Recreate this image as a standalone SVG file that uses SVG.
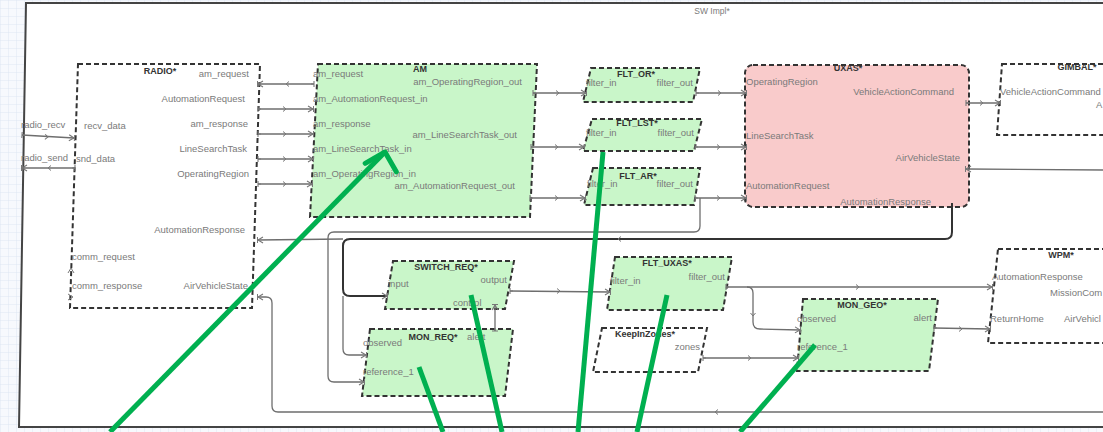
<svg xmlns="http://www.w3.org/2000/svg" width="1103" height="432" viewBox="0 0 1103 432">
<defs>
<pattern id="grid" width="8" height="8" patternUnits="userSpaceOnUse">
<rect width="8" height="8" fill="#f7f9fd"/>
<path d="M8 0 L0 0 L0 8" fill="none" stroke="#dbe4f1" stroke-width="0.8"/>
</pattern>
<marker id="arr" markerWidth="8" markerHeight="8" refX="6" refY="4" orient="auto" markerUnits="userSpaceOnUse">
<path d="M1 1 L6 4 L1 7" fill="none" stroke="#777" stroke-width="1.1"/>
<path d="M6.5 1 L6.5 7" stroke="#777" stroke-width="1"/>
</marker>
<marker id="src" markerWidth="6" markerHeight="8" refX="1" refY="4" orient="auto" markerUnits="userSpaceOnUse">
<path d="M1 1 L1 7 M1 4 L4 4" fill="none" stroke="#777" stroke-width="1.1"/>
</marker>
<path id="tk" d="M-3 -2.5 L0 0 L-3 2.5" fill="none" stroke="#777" stroke-width="1"/>
<path id="ga" d="M-22 -6 L0 0 L-6 22" fill="none" stroke="#00b050" stroke-width="5" stroke-linecap="round" stroke-linejoin="round"/>
</defs>
<style>
.node{stroke:#333;stroke-width:2;stroke-dasharray:5 3;}
.wh{fill:#ffffff;}
.gr{fill:#c9f6c9;}
.pk{fill:#f9cbcb;}
.t{font-family:"Liberation Sans",Arial,sans-serif;font-size:9.5px;fill:#7a7a7a;}
.r{text-anchor:end;}
.h{font-family:"Liberation Sans",Arial,sans-serif;font-size:9px;font-weight:bold;fill:#333;text-anchor:middle;}
.c{fill:none;stroke:#6e6e6e;stroke-width:1.3;}
.ck{fill:none;stroke:#333;stroke-width:2;}
.ann{fill:none;stroke:#00b050;stroke-width:5;stroke-linecap:butt;}
</style>
<rect width="1103" height="432" fill="url(#grid)"/>
<g id="frame">
<path d="M26 3 L1103 3 L1103 427 L19 427 Z" fill="#ffffff"/>
<path d="M1103 3 L26 3 L19 427 L1103 427" fill="none" stroke="#444" stroke-width="2"/>
<text class="t" x="712" y="14" text-anchor="middle" style="font-size:8.5px">SW Impl*</text>
<text class="t" x="21" y="128">radio_recv</text>
<text class="t" x="21" y="161">radio_send</text>
</g>
<g id="RADIO">
<polygon class="node wh" points="78,64 260,64 252,308 70,308"/>
<text class="h" x="160" y="74">RADIO*</text>
<text class="t r" x="249" y="77">am_request</text>
<text class="t r" x="245" y="102">AutomationRequest</text>
<text class="t r" x="248" y="127">am_response</text>
<text class="t r" x="247" y="152">LineSearchTask</text>
<text class="t r" x="249" y="177">OperatingRegion</text>
<text class="t r" x="245" y="233">AutomationResponse</text>
<text class="t r" x="248" y="289">AirVehicleState</text>
<text class="t" x="84" y="129">recv_data</text>
<text class="t" x="76" y="162">snd_data</text>
<text class="t" x="72" y="260">comm_request</text>
<text class="t" x="72" y="289">comm_response</text>
<path d="M68 273 L71 268 L74 273 M68 300 L73 297 L68 294" fill="none" stroke="#777" stroke-width="1"/>
</g>
<g id="AM">
<polygon class="node gr" points="318,64 537,64 530,217 310,217"/>
<text class="h" x="420" y="72">AM</text>
<text class="t" x="313" y="77">am_request</text>
<text class="t" x="313" y="102">am_AutomationRequest_in</text>
<text class="t" x="313" y="127">am_response</text>
<text class="t" x="313" y="152">am_LineSearchTask_in</text>
<text class="t" x="313" y="177">am_OperatingRegion_in</text>
<text class="t r" x="522" y="85">am_OperatingRegion_out</text>
<text class="t r" x="517" y="138">am_LineSearchTask_out</text>
<text class="t r" x="515" y="189">am_AutomationRequest_out</text>
</g>
<g id="FLT_OR">
<polygon class="node gr" points="591,68 700,68 693,102 583,102"/>
<text class="h" x="636" y="77">FLT_OR*</text>
<text class="t" x="586" y="86">filter_in</text>
<text class="t r" x="693" y="86">filter_out</text>
</g>
<g id="FLT_LST">
<polygon class="node gr" points="592,119 702,119 694,151 583,151"/>
<text class="h" x="637" y="126">FLT_LST*</text>
<text class="t" x="586" y="136">filter_in</text>
<text class="t r" x="694" y="136">filter_out</text>
</g>
<g id="FLT_AR">
<polygon class="node gr" points="593,168 700,168 694,205 584,205"/>
<text class="h" x="638" y="179">FLT_AR*</text>
<text class="t" x="587" y="187">filter_in</text>
<text class="t r" x="693" y="187">filter_out</text>
</g>
<g id="UXAS">
<rect class="node pk" x="745" y="65" width="224" height="142" rx="8"/>
<text class="h" x="848" y="71">UXAS*</text>
<text class="t" x="746" y="85">OperatingRegion</text>
<text class="t r" x="954" y="95">VehicleActionCommand</text>
<text class="t" x="746" y="139">LineSearchTask</text>
<text class="t r" x="960" y="161">AirVehicleState</text>
<text class="t" x="746" y="189">AutomationRequest</text>
<text class="t r" x="931" y="205">AutomationResponse</text>
</g>
<g id="GIMBAL">
<polygon class="node wh" points="1002,64 1112,64 1107,135 997,135"/>
<text class="h" x="1077" y="70">GIMBAL*</text>
<text class="t" x="1000" y="95">VehicleActionCommand</text>
<text class="t" x="1096" y="108">A</text>
</g>
<g id="SWITCH_REQ">
<polygon class="node gr" points="393,261 514,261 505,309 385,309"/>
<text class="h" x="446" y="270">SWITCH_REQ*</text>
<text class="t" x="388" y="287">input</text>
<text class="t r" x="507" y="283">output</text>
<text class="t" x="453" y="306">control</text>
</g>
<g id="MON_REQ">
<polygon class="node gr" points="370,329 513,329 505,396 362,396"/>
<text class="h" x="433" y="340">MON_REQ*</text>
<text class="t" x="467" y="340">alert</text>
<text class="t" x="363" y="346">observed</text>
<text class="t" x="363" y="375">reference_1</text>
</g>
<g id="FLT_UXAS">
<polygon class="node gr" points="615,257 732,257 723,310 607,310"/>
<text class="h" x="667" y="266">FLT_UXAS*</text>
<text class="t" x="610" y="284">filter_in</text>
<text class="t r" x="725" y="280">filter_out</text>
</g>
<g id="KeepInZones">
<polygon class="node wh" points="602,328 707,328 698,372 593,372"/>
<text class="h" x="645" y="337">KeepInZones*</text>
<text class="t r" x="700" y="350">zones</text>
</g>
<g id="MON_GEO">
<polygon class="node gr" points="803,299 938,299 929,371 797,371"/>
<text class="h" x="862" y="308">MON_GEO*</text>
<text class="t" x="797" y="322">observed</text>
<text class="t r" x="932" y="321">alert</text>
<text class="t" x="797" y="350">reference_1</text>
</g>
<g id="WPM">
<polygon class="node wh" points="998,249 1112,249 1107,343 988,343"/>
<text class="h" x="1061" y="258">WPM*</text>
<text class="t" x="992" y="280">AutomationResponse</text>
<text class="t" x="1050" y="296">MissionCom</text>
<text class="t" x="990" y="322">ReturnHome</text>
<text class="t" x="1064" y="322">AirVehicl</text>
</g>
<g id="connectors">
<path class="c" d="M22 135 L74 138" marker-start="url(#src)" marker-end="url(#arr)"/>
<path class="c" d="M75 168 L22 168" marker-start="url(#src)" marker-end="url(#arr)"/>
<path class="c" d="M314 84 L258 84" marker-start="url(#src)" marker-end="url(#arr)"/>
<path class="c" d="M258 109 L313 109" marker-start="url(#src)" marker-end="url(#arr)"/>
<path class="c" d="M258 134 L313 134" marker-start="url(#src)" marker-end="url(#arr)"/>
<path class="c" d="M258 159 L313 159" marker-start="url(#src)" marker-end="url(#arr)"/>
<path class="c" d="M258 184 L312 184" marker-start="url(#src)" marker-end="url(#arr)"/>
<path class="c" d="M533 93 L586 93" marker-start="url(#src)" marker-end="url(#arr)"/>
<path class="c" d="M531 147 L584 147" marker-start="url(#src)" marker-end="url(#arr)"/>
<path class="c" d="M530 198 L585 198" marker-start="url(#src)" marker-end="url(#arr)"/>
<path class="c" d="M696 93 L746 93" marker-start="url(#src)" marker-end="url(#arr)"/>
<path class="c" d="M695 147 L746 147" marker-start="url(#src)" marker-end="url(#arr)"/>
<path class="c" d="M695 198 L746 198" marker-start="url(#src)" marker-end="url(#arr)"/>
<path class="c" d="M700 198 L700 226 Q700 232 694 232 L334 232 Q328 232 328 238 L328 376 Q328 382 334 382 L364 382" marker-end="url(#arr)"/>
<path class="c" d="M966 103 L1000 103" marker-start="url(#src)" marker-end="url(#arr)"/>
<path class="c" d="M1103 170 L966 169" marker-end="url(#arr)"/>
<path class="ck" d="M952 203 L952 232 Q952 239 945 239 L350 239 Q343 239 343 246 L343 289 Q343 296 350 296 L387 296" marker-end="url(#arr)"/>
<path class="c" d="M343 239 L258 240" marker-end="url(#arr)"/>
<path class="c" d="M343 296 L343 349 Q343 355 349 355 L366 355" marker-end="url(#arr)"/>
<path class="c" d="M510 291 L610 292" marker-start="url(#src)" marker-end="url(#arr)"/>
<path class="c" d="M495 331 L495 305" marker-start="url(#src)" marker-end="url(#arr)"/>
<path class="c" d="M726 287 L992 287" marker-start="url(#src)" marker-end="url(#arr)"/>
<path class="c" d="M747 287 Q753 287 753 293 L753 322 Q753 329 760 329 L800 330" marker-end="url(#arr)"/>
<path class="c" d="M703 358 L798 358" marker-start="url(#src)" marker-end="url(#arr)"/>
<path class="c" d="M934 328 L990 329" marker-start="url(#src)" marker-end="url(#arr)"/>
<path class="c" d="M1103 412 L278 412 Q272 412 272 406 L272 303 Q272 297 266 297 L258 297" marker-end="url(#arr)"/>
<use href="#tk" transform="translate(48,137) rotate(3)"/>
<use href="#tk" transform="translate(48,168) rotate(180)"/>
<use href="#tk" transform="translate(286,84) rotate(180)"/>
<use href="#tk" transform="translate(286,109)"/>
<use href="#tk" transform="translate(286,134)"/>
<use href="#tk" transform="translate(286,159)"/>
<use href="#tk" transform="translate(286,184)"/>
<use href="#tk" transform="translate(559,93)"/>
<use href="#tk" transform="translate(558,147)"/>
<use href="#tk" transform="translate(558,198)"/>
<use href="#tk" transform="translate(721,93)"/>
<use href="#tk" transform="translate(720,147)"/>
<use href="#tk" transform="translate(720,198)"/>
<use href="#tk" transform="translate(983,103)"/>
<use href="#tk" transform="translate(618,239) rotate(180)"/>
<use href="#tk" transform="translate(560,291)"/>
<use href="#tk" transform="translate(859,287)"/>
<use href="#tk" transform="translate(753,316) rotate(90)"/>
<use href="#tk" transform="translate(751,358)"/>
<use href="#tk" transform="translate(962,329)"/>
<use href="#tk" transform="translate(715,412) rotate(180)"/>
</g>
<g id="annotations">
<path class="ann" d="M110 432 L385 152"/>
<use href="#ga" transform="translate(385,152) rotate(-45)"/>
<path class="ann" d="M443 432 L419 367"/>
<path class="ann" d="M502 432 L471 295"/>
<path class="ann" d="M578 432 L603 152"/>
<path class="ann" d="M637 432 L667 295"/>
<path class="ann" d="M740 432 L815 345"/>
</g>
</svg>
